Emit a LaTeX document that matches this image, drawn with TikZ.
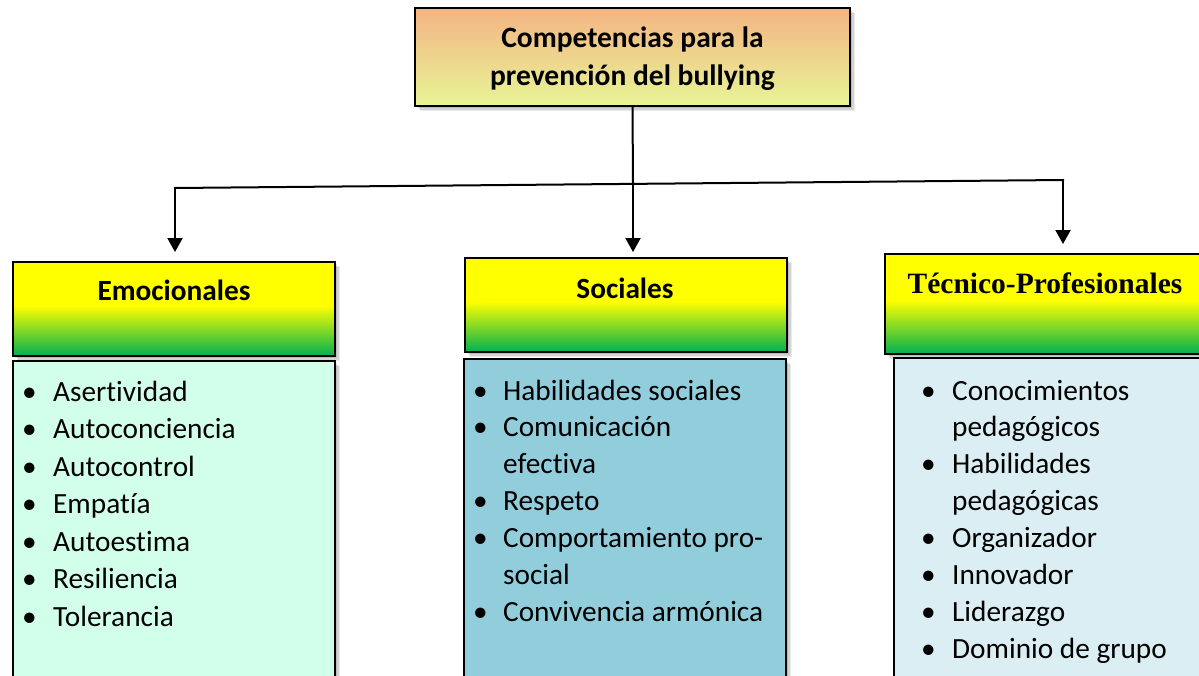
\documentclass[tikz,border=0pt]{standalone}
\usepackage{fontspec}
\setmainfont{Carlito}[RawFeature={-liga}]
\newfontfamily\timesf{Liberation Serif}
\usetikzlibrary{arrows.meta,shadows}

\definecolor{titletop}{RGB}{244,180,132}
\definecolor{titlebot}{RGB}{232,245,150}
\definecolor{hyellow}{RGB}{255,255,0}
\definecolor{hgreen}{RGB}{0,176,80}
\definecolor{emobody}{RGB}{210,255,234}
\definecolor{socbody}{RGB}{146,205,220}
\definecolor{tecbody}{RGB}{218,238,243}

\pgfdeclareverticalshading{hdrshade}{100bp}{color(0bp)=(hgreen); color(25bp)=(hgreen); color(52bp)=(hyellow); color(75bp)=(hyellow); color(100bp)=(hyellow)}

\begin{document}
\begin{tikzpicture}[x=1pt,y=-1pt,
  softshadow/.style={
    general shadow={fill=black,opacity=.10,shadow xshift=2pt,shadow yshift=-2pt},
    general shadow={fill=black,opacity=.10,shadow xshift=3.5pt,shadow yshift=-3.5pt},
    general shadow={fill=black,opacity=.08,shadow xshift=5pt,shadow yshift=-5pt}},
  boxline/.style={draw=black,line width=2.2pt,rectangle,inner sep=0pt,softshadow},
  titlebox/.style={boxline,top color=titletop,bottom color=titlebot,minimum width=435pt,minimum height=98pt},
  headbox/.style={boxline,shading=hdrshade,minimum width=322pt,minimum height=94pt,anchor=north west},
  bodybox/.style={boxline,minimum width=322pt,minimum height=340pt,anchor=north west},
  titletext/.style={align=center,font=\bfseries\fontsize{29.5}{38}\selectfont},
  headtext/.style={font=\bfseries\fontsize{29.3}{34}\selectfont},
  listtext/.style={anchor=north west,inner sep=0pt,align=left},
  conn/.style={line width=2pt},
  arr/.style={conn,-{Triangle[length=14pt,width=15pt]}},
]
\useasboundingbox (0,0) rectangle (1199,675);
\clip (0,0) rectangle (1199,675);
\fill[white] (0,0) rectangle (1199,675);

% title
\node[titlebox] (T) at (632.5,57) {};
\node[titletext] (Tt) at (632.5,59) {Competencias para la\\prevención del bullying};

% headers
\node[headbox] (EH) at (12,261) {};
\node[headtext] (EHt) at (174,290) {Emocionales};
\node[headbox] (SH) at (464,257) {};
\node[headtext] (SHt) at (625,288) {Sociales};
\node[headbox,minimum height=100pt] (TH) at (884,253) {};
\node[headtext,font=\timesf\bfseries\fontsize{29.5}{34}\selectfont] (THt) at (1045,283) {Técnico-Profesionales};

% bodies
\node[bodybox,fill=emobody] (EB) at (12,360) {};
\node[bodybox,fill=socbody] (SB) at (463,358) {};
\node[bodybox,fill=tecbody] (TB) at (893,357) {};

% lists
\node[listtext] (EL) at (22,375) {\fontsize{29.3}{37.5}\selectfont
\begin{tabular}{@{}p{21pt}@{\hspace{10pt}}l@{}}
•&Asertividad\\
•&Autoconciencia\\
•&Autocontrol\\
•&Empatía\\
•&Autoestima\\
•&Resiliencia\\
•&Tolerancia
\end{tabular}};
\node[listtext] (SL) at (473,374) {\fontsize{29.3}{36.9}\selectfont
\begin{tabular}{@{}p{21pt}@{\hspace{9pt}}l@{}}
•&Habilidades sociales\\
•&Comunicación\\
&efectiva\\
•&Respeto\\
•&Comportamiento pro-\\
&social\\
•&Convivencia armónica
\end{tabular}};
\node[listtext] (TL) at (921,374) {\fontsize{29.3}{36.9}\selectfont
\begin{tabular}{@{}p{21pt}@{\hspace{10pt}}l@{}}
•&Conocimientos\\
&pedagógicos\\
•&Habilidades\\
&pedagógicas\\
•&Organizador\\
•&Innovador\\
•&Liderazgo\\
•&Dominio de grupo
\end{tabular}};

% connectors
\coordinate (J) at (633,183.5);
\coordinate (L) at (175,188);
\coordinate (R) at (1063,180);
\draw[conn] (T.south) -- (J);
\draw[conn,line cap=rect] (L) -- (R);
\draw[arr,shorten >=9pt] (L) -- (L |- EH.north);
\draw[arr,shorten >=5pt] (J) -- (J |- SH.north);
\draw[arr,shorten >=9pt] (R) -- (R |- TH.north);
\end{tikzpicture}
\end{document}
